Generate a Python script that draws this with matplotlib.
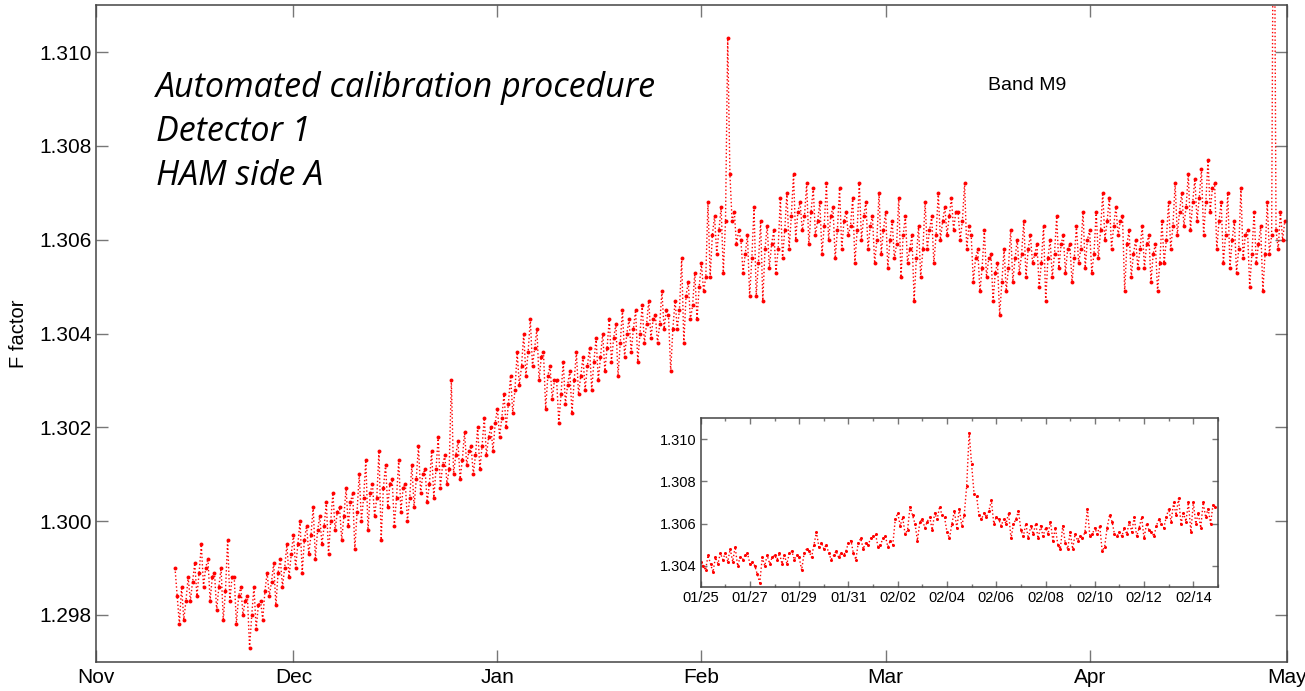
import numpy as np
import matplotlib
matplotlib.use("Agg")
import matplotlib.pyplot as plt

# Main series: F factor every 8 hours, starting 13 Nov 2012 (one row = one week)
main_start = np.datetime64("2012-11-13T00:00")
f_main = [
    # Nov 13 - Nov 19
    1.2990, 1.2984, 1.2978, 1.2986, 1.2979, 1.2983, 1.2988, 1.2983, 1.2987, 1.2991, 1.2984, 1.2989,
    1.2995, 1.2986, 1.2990, 1.2992, 1.2983, 1.2988, 1.2989, 1.2981, 1.2986,
    # Nov 20 - Nov 26
    1.2990, 1.2979, 1.2985, 1.2996, 1.2983, 1.2988, 1.2988, 1.2978, 1.2984, 1.2986, 1.2980, 1.2983,
    1.2984, 1.2973, 1.2980, 1.2986, 1.2977, 1.2982, 1.2983, 1.2979, 1.2985,
    # Nov 27 - Dec 3
    1.2989, 1.2984, 1.2987, 1.2991, 1.2982, 1.2989, 1.2992, 1.2986, 1.2990, 1.2995, 1.2988, 1.2993,
    1.2997, 1.2990, 1.2995, 1.3000, 1.2989, 1.2996, 1.2999, 1.2993, 1.2997,
    # Dec 4 - Dec 10
    1.3003, 1.2992, 1.2998, 1.3001, 1.2995, 1.2999, 1.3004, 1.2993, 1.3000, 1.3006, 1.2998, 1.3002,
    1.3003, 1.2996, 1.3001, 1.3007, 1.2999, 1.3004, 1.3006, 1.2994, 1.3002,
    # Dec 11 - Dec 17
    1.3010, 1.3000, 1.3005, 1.3013, 1.2998, 1.3006, 1.3008, 1.3001, 1.3005, 1.3015, 1.2996, 1.3007,
    1.3012, 1.3003, 1.3008, 1.3009, 1.2999, 1.3005, 1.3013, 1.3002, 1.3007,
    # Dec 18 - Dec 24
    1.3008, 1.3000, 1.3005, 1.3012, 1.3003, 1.3009, 1.3016, 1.3006, 1.3010, 1.3011, 1.3004, 1.3008,
    1.3015, 1.3005, 1.3011, 1.3018, 1.3007, 1.3012, 1.3014, 1.3008, 1.3011,
    # Dec 25 - Dec 31
    1.3030, 1.3010, 1.3014, 1.3017, 1.3009, 1.3013, 1.3019, 1.3012, 1.3015, 1.3016, 1.3010, 1.3014,
    1.3020, 1.3011, 1.3016, 1.3022, 1.3014, 1.3018, 1.3020, 1.3015, 1.3021,
    # Jan 1 - Jan 7
    1.3024, 1.3018, 1.3022, 1.3027, 1.3020, 1.3025, 1.3031, 1.3023, 1.3028, 1.3036, 1.3029, 1.3033,
    1.3040, 1.3031, 1.3036, 1.3043, 1.3033, 1.3037, 1.3041, 1.3030, 1.3035,
    # Jan 8 - Jan 14
    1.3036, 1.3024, 1.3031, 1.3033, 1.3026, 1.3030, 1.3030, 1.3021, 1.3027, 1.3034, 1.3025, 1.3029,
    1.3032, 1.3023, 1.3030, 1.3036, 1.3027, 1.3031, 1.3035, 1.3028, 1.3033,
    # Jan 15 - Jan 21
    1.3037, 1.3028, 1.3034, 1.3039, 1.3030, 1.3035, 1.3040, 1.3032, 1.3037, 1.3043, 1.3034, 1.3039,
    1.3042, 1.3031, 1.3038, 1.3045, 1.3035, 1.3040, 1.3043, 1.3036, 1.3041,
    # Jan 22 - Jan 28
    1.3045, 1.3034, 1.3040, 1.3046, 1.3038, 1.3042, 1.3047, 1.3039, 1.3043, 1.3044, 1.3038, 1.3042,
    1.3049, 1.3041, 1.3045, 1.3044, 1.3032, 1.3041, 1.3047, 1.3041, 1.3045,
    # Jan 29 - Feb 4
    1.3056, 1.3038, 1.3048, 1.3051, 1.3043, 1.3046, 1.3053, 1.3043, 1.3050, 1.3055, 1.3049, 1.3052,
    1.3068, 1.3052, 1.3061, 1.3065, 1.3057, 1.3062, 1.3067, 1.3053, 1.3064,
    # Feb 5 - Feb 11
    1.3103, 1.3074, 1.3064, 1.3066, 1.3059, 1.3062, 1.3060, 1.3053, 1.3057, 1.3061, 1.3048, 1.3056,
    1.3067, 1.3048, 1.3055, 1.3064, 1.3047, 1.3058, 1.3063, 1.3054, 1.3059,
    # Feb 12 - Feb 18
    1.3062, 1.3053, 1.3058, 1.3069, 1.3056, 1.3062, 1.3070, 1.3058, 1.3065, 1.3074, 1.3060, 1.3066,
    1.3068, 1.3062, 1.3065, 1.3072, 1.3059, 1.3066, 1.3071, 1.3061, 1.3064,
    # Feb 19 - Feb 25
    1.3068, 1.3057, 1.3063, 1.3072, 1.3060, 1.3065, 1.3067, 1.3056, 1.3062, 1.3071, 1.3058, 1.3064,
    1.3066, 1.3061, 1.3063, 1.3069, 1.3055, 1.3062, 1.3072, 1.3060, 1.3065,
    # Feb 26 - Mar 4
    1.3068, 1.3058, 1.3063, 1.3065, 1.3055, 1.3060, 1.3070, 1.3057, 1.3062, 1.3066, 1.3054, 1.3060,
    1.3064, 1.3056, 1.3059, 1.3069, 1.3052, 1.3061, 1.3065, 1.3055, 1.3058,
    # Mar 5 - Mar 11
    1.3061, 1.3047, 1.3056, 1.3063, 1.3052, 1.3058, 1.3068, 1.3058, 1.3062, 1.3065, 1.3055, 1.3061,
    1.3070, 1.3060, 1.3064, 1.3067, 1.3061, 1.3065, 1.3069, 1.3062, 1.3066,
    # Mar 12 - Mar 18
    1.3066, 1.3060, 1.3064, 1.3072, 1.3058, 1.3063, 1.3061, 1.3051, 1.3056, 1.3058, 1.3049, 1.3054,
    1.3062, 1.3052, 1.3056, 1.3057, 1.3047, 1.3053, 1.3055, 1.3044, 1.3051,
    # Mar 19 - Mar 25
    1.3058, 1.3049, 1.3054, 1.3062, 1.3051, 1.3056, 1.3060, 1.3053, 1.3057, 1.3064, 1.3052, 1.3058,
    1.3061, 1.3055, 1.3057, 1.3059, 1.3050, 1.3055, 1.3063, 1.3047, 1.3056,
    # Mar 26 - Apr 1
    1.3060, 1.3052, 1.3057, 1.3065, 1.3054, 1.3059, 1.3061, 1.3053, 1.3058, 1.3059, 1.3051, 1.3056,
    1.3063, 1.3055, 1.3058, 1.3066, 1.3054, 1.3060, 1.3062, 1.3053, 1.3057,
    # Apr 2 - Apr 8
    1.3066, 1.3056, 1.3062, 1.3070, 1.3060, 1.3064, 1.3069, 1.3058, 1.3063, 1.3067, 1.3061, 1.3064,
    1.3065, 1.3049, 1.3059, 1.3062, 1.3052, 1.3057, 1.3060, 1.3054, 1.3058,
    # Apr 9 - Apr 15
    1.3063, 1.3054, 1.3059, 1.3061, 1.3051, 1.3057, 1.3059, 1.3049, 1.3055, 1.3064, 1.3055, 1.3060,
    1.3068, 1.3058, 1.3063, 1.3072, 1.3061, 1.3066, 1.3070, 1.3063, 1.3067,
    # Apr 16 - Apr 22
    1.3074, 1.3062, 1.3068, 1.3073, 1.3064, 1.3069, 1.3075, 1.3061, 1.3068, 1.3077, 1.3066, 1.3071,
    1.3072, 1.3058, 1.3064, 1.3068, 1.3055, 1.3061, 1.3070, 1.3054, 1.3060,
    # Apr 23 - Apr 29
    1.3064, 1.3053, 1.3058, 1.3071, 1.3056, 1.3061, 1.3062, 1.3050, 1.3057, 1.3066, 1.3055, 1.3059,
    1.3063, 1.3049, 1.3057, 1.3068, 1.3057, 1.3061, 1.3160, 1.3062, 1.3058,
    # Apr 30
    1.3066, 1.3060, 1.3064,
]

# Inset series: F factor every 2.4 hours, starting 25 Jan 2013 (one row = one day)
inset_start = np.datetime64("2013-01-25T00:00")
f_inset = [
    1.3042, 1.3040, 1.3038, 1.3045, 1.3041, 1.3037, 1.3044, 1.3041, 1.3046, 1.3043,  # 01/25
    1.3046, 1.3042, 1.3048, 1.3042, 1.3049, 1.3040, 1.3044, 1.3043, 1.3045, 1.3046,  # 01/26
    1.3041, 1.3042, 1.3040, 1.3036, 1.3032, 1.3044, 1.3040, 1.3045, 1.3041, 1.3044,  # 01/27
    1.3045, 1.3043, 1.3046, 1.3041, 1.3045, 1.3041, 1.3046, 1.3047, 1.3043, 1.3045,  # 01/28
    1.3044, 1.3038, 1.3046, 1.3048, 1.3047, 1.3044, 1.3050, 1.3056, 1.3049, 1.3051,  # 01/29
    1.3048, 1.3050, 1.3046, 1.3043, 1.3045, 1.3047, 1.3044, 1.3046, 1.3045, 1.3047,  # 01/30
    1.3051, 1.3052, 1.3046, 1.3043, 1.3051, 1.3053, 1.3048, 1.3051, 1.3050, 1.3053,  # 01/31
    1.3054, 1.3055, 1.3049, 1.3050, 1.3053, 1.3054, 1.3049, 1.3052, 1.3050, 1.3062,  # 02/01
    1.3065, 1.3059, 1.3063, 1.3055, 1.3057, 1.3068, 1.3064, 1.3060, 1.3052, 1.3061,  # 02/02
    1.3062, 1.3058, 1.3061, 1.3063, 1.3057, 1.3065, 1.3062, 1.3068, 1.3064, 1.3063,  # 02/03
    1.3056, 1.3053, 1.3060, 1.3066, 1.3058, 1.3067, 1.3059, 1.3064, 1.3078, 1.3103,  # 02/04
    1.3088, 1.3074, 1.3073, 1.3064, 1.3062, 1.3065, 1.3063, 1.3066, 1.3071, 1.3060,  # 02/05
    1.3063, 1.3062, 1.3059, 1.3062, 1.3060, 1.3065, 1.3053, 1.3060, 1.3062, 1.3066,  # 02/06
    1.3057, 1.3054, 1.3060, 1.3053, 1.3059, 1.3055, 1.3060, 1.3053, 1.3059, 1.3054,  # 02/07
    1.3058, 1.3055, 1.3061, 1.3052, 1.3058, 1.3050, 1.3048, 1.3059, 1.3051, 1.3048,  # 02/08
    1.3056, 1.3048, 1.3055, 1.3052, 1.3054, 1.3053, 1.3056, 1.3067, 1.3054, 1.3055,  # 02/09
    1.3058, 1.3055, 1.3059, 1.3047, 1.3049, 1.3058, 1.3064, 1.3061, 1.3055, 1.3054,  # 02/10
    1.3056, 1.3054, 1.3058, 1.3055, 1.3061, 1.3056, 1.3063, 1.3054, 1.3058, 1.3063,  # 02/11
    1.3053, 1.3060, 1.3057, 1.3056, 1.3054, 1.3059, 1.3062, 1.3060, 1.3058, 1.3063,  # 02/12
    1.3067, 1.3061, 1.3070, 1.3064, 1.3072, 1.3060, 1.3065, 1.3061, 1.3070, 1.3056,  # 02/13
    1.3070, 1.3060, 1.3065, 1.3058, 1.3070, 1.3063, 1.3067, 1.3060, 1.3069, 1.3068,  # 02/14
]

# Axis ticks and labels
month_ticks = ["2012-11-01", "2012-12-01", "2013-01-01", "2013-02-01",
               "2013-03-01", "2013-04-01", "2013-05-01"]
month_labels = ["Nov", "Dec", "Jan", "Feb", "Mar", "Apr", "May"]
main_yticks = [1.298, 1.300, 1.302, 1.304, 1.306, 1.308, 1.310]
inset_yticks = [1.304, 1.306, 1.308, 1.310]
inset_xlabels = ["01/25", "01/27", "01/29", "01/31", "02/02", "02/04",
                 "02/06", "02/08", "02/10", "02/12", "02/14"]
title_lines = ["Automated calibration procedure", "Detector 1", "HAM side A"]
band_label = "Band M9"

# Time axes
t_main = main_start + np.arange(len(f_main)) * np.timedelta64(8, "h")
t_inset = inset_start + np.arange(len(f_inset)) * np.timedelta64(144, "m")
inset_major = np.datetime64("2013-01-25") + np.arange(len(inset_xlabels)) * np.timedelta64(2, "D")
inset_minor = np.arange(np.datetime64("2013-01-25"), np.datetime64("2013-02-16"), np.timedelta64(1, "D"))

plt.rcParams["font.family"] = ["Liberation Sans", "DejaVu Sans"]
spine_col = "#444444"
tick_col = "#777777"

fig = plt.figure(figsize=(13.05, 6.91), dpi=100)

# Main axes
ax = fig.add_axes([0.0736, 0.0424, 0.9126, 0.9499])
ax.plot(t_main, f_main, color="red", linestyle=":", linewidth=1.0,
        marker="o", markersize=2.8, markeredgewidth=0)
ax.set_xlim(np.datetime64("2012-11-01"), np.datetime64("2013-05-01"))
ax.set_ylim(1.297, 1.311)
ax.set_xticks([np.datetime64(m) for m in month_ticks])
ax.set_xticklabels(month_labels)
ax.set_yticks(main_yticks)
ax.set_yticklabels(["%.3f" % v for v in main_yticks])
ax.tick_params(direction="in", length=8.5, width=1, color=tick_col,
               labelsize=15, top=True, right=True)
ax.tick_params(axis="x", pad=4.5)
ax.tick_params(axis="y", pad=3)
ax.set_ylabel("F factor", fontsize=14.5, labelpad=8)
for s in ax.spines.values():
    s.set_color(spine_col)
    s.set_linewidth(1.1)

# Text annotations
for i, line in enumerate(title_lines):
    fig.text(156 / 1305, 1 - (97 + 44 * i) / 691, line, fontsize=24.5,
             style="italic", family="Open Sans", va="baseline", ha="left")
fig.text(1027 / 1305, 1 - 86 / 691, band_label, fontsize=14, ha="center", va="center")

# Inset axes
axi = fig.add_axes([0.5369, 0.1505, 0.3964, 0.2446])
axi.plot(t_inset, f_inset, color="red", linestyle=":", linewidth=1.0,
         marker="o", markersize=2.2, markeredgewidth=0)
axi.set_xlim(np.datetime64("2013-01-25"), np.datetime64("2013-02-15"))
axi.set_ylim(1.303, 1.311)
axi.set_xticks(inset_major)
axi.set_xticklabels(inset_xlabels)
axi.set_xticks(inset_minor, minor=True)
axi.set_yticks(inset_yticks)
axi.set_yticklabels(["%.3f" % v for v in inset_yticks])
axi.tick_params(direction="in", length=4, width=1, color=tick_col,
                labelsize=10.5, top=True, right=True, pad=3)
axi.tick_params(which="minor", direction="in", length=2, width=1,
                color=tick_col, top=True)
for s in axi.spines.values():
    s.set_color(spine_col)
    s.set_linewidth(1.1)

fig.savefig("out.png", dpi=100)
